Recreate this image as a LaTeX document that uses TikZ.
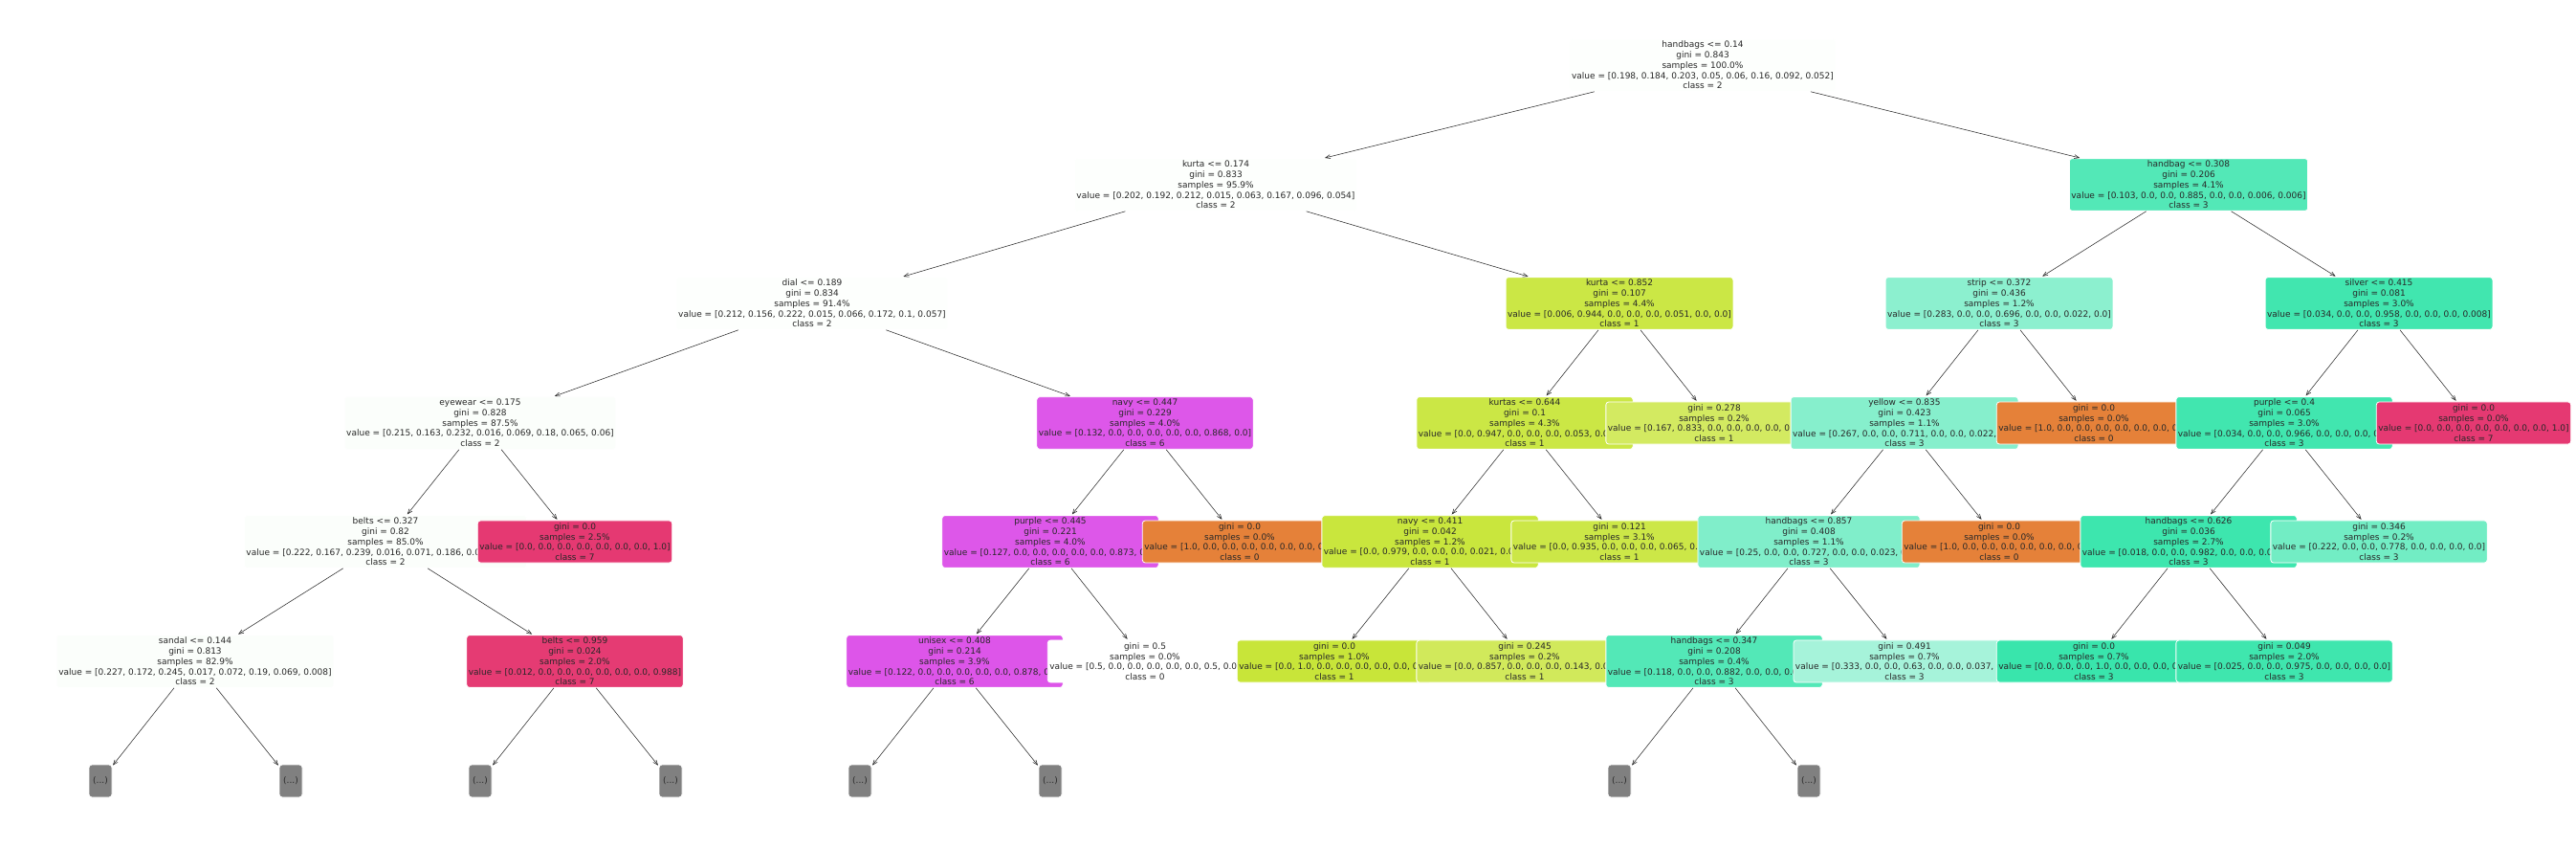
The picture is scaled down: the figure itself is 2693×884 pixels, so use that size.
\documentclass[tikz,border=0pt]{standalone}
\usepackage{fontspec}
\setmainfont{DejaVu Sans}
\usepackage{xcolor}
\usetikzlibrary{arrows.meta}
\definecolor{cls0}{RGB}{229,129,57}
\definecolor{cls1}{RGB}{200,229,57}
\definecolor{cls2}{RGB}{71,229,57}
\definecolor{cls3}{RGB}{57,229,172}
\definecolor{cls6}{RGB}{215,57,229}
\definecolor{cls7}{RGB}{229,57,114}
\definecolor{txt}{RGB}{40,40,40}
\tikzset{elided/.style={fill=gray,minimum width=24pt,minimum height=34pt,inner sep=0pt}}

\begin{document}
\begin{tikzpicture}[x=1pt,y=-1pt]
\useasboundingbox (0,0) rectangle (2693,884);
\begin{scope}[every node/.style={draw=white,line width=0.8pt,rounded corners=3pt,inner xsep=2pt,inner ysep=2.5pt,
                                 align=center,text=txt,font=\fontsize{9}{10.7}\selectfont}]
    % depth 0 and 1
    \node (root)[fill=cls2!1] at (1780,68) {handbags <= 0.14\\gini = 0.843\\samples = 100.0\%\\value = [0.198, 0.184, 0.203, 0.05, 0.06, 0.16, 0.092, 0.052]\\class = 2};
    \node (kurtaA)[fill=cls2!1] at (1271,193) {kurta <= 0.174\\gini = 0.833\\samples = 95.9\%\\value = [0.202, 0.192, 0.212, 0.015, 0.063, 0.167, 0.096, 0.054]\\class = 2};
    % left half
    \node (dial)[fill=cls2!1] at (849,317) {dial <= 0.189\\gini = 0.834\\samples = 91.4\%\\value = [0.212, 0.156, 0.222, 0.015, 0.066, 0.172, 0.1, 0.057]\\class = 2};
    \node (eyewear)[fill=cls2!2] at (502,442) {eyewear <= 0.175\\gini = 0.828\\samples = 87.5\%\\value = [0.215, 0.163, 0.232, 0.016, 0.069, 0.18, 0.065, 0.06]\\class = 2};
    \node (beltsA)[fill=cls2!2] at (403,566) {belts <= 0.327\\gini = 0.82\\samples = 85.0\%\\value = [0.222, 0.167, 0.239, 0.016, 0.071, 0.186, 0.067, 0.031]\\class = 2};
    \node (sandal)[fill=cls2!2] at (204,691) {sandal <= 0.144\\gini = 0.813\\samples = 82.9\%\\value = [0.227, 0.172, 0.245, 0.017, 0.072, 0.19, 0.069, 0.008]\\class = 2};
    \node (tA)[elided] at (105,816) {(...)};
    \node (tB)[elided] at (304,816) {(...)};
    \node (beltsB)[fill=cls7!99] at (601,691) {belts <= 0.959\\gini = 0.024\\samples = 2.0\%\\value = [0.012, 0.0, 0.0, 0.0, 0.0, 0.0, 0.0, 0.988]\\class = 7};
    \node (tC)[elided] at (502,816) {(...)};
    \node (tD)[elided] at (701,816) {(...)};
    \node (leafA)[fill=cls7] at (601,566) {gini = 0.0\\samples = 2.5\%\\value = [0.0, 0.0, 0.0, 0.0, 0.0, 0.0, 0.0, 1.0]\\class = 7};
    \node (navyA)[fill=cls6!85] at (1197,442) {navy <= 0.447\\gini = 0.229\\samples = 4.0\%\\value = [0.132, 0.0, 0.0, 0.0, 0.0, 0.0, 0.868, 0.0]\\class = 6};
    \node (purpleA)[fill=cls6!85] at (1098,566) {purple <= 0.445\\gini = 0.221\\samples = 4.0\%\\value = [0.127, 0.0, 0.0, 0.0, 0.0, 0.0, 0.873, 0.0]\\class = 6};
    \node (unisex)[fill=cls6!86] at (998,691) {unisex <= 0.408\\gini = 0.214\\samples = 3.9\%\\value = [0.122, 0.0, 0.0, 0.0, 0.0, 0.0, 0.878, 0.0]\\class = 6};
    \node (tE)[elided] at (899,816) {(...)};
    \node (tF)[elided] at (1098,816) {(...)};
    \node (leafC)[fill=white] at (1197,691) {gini = 0.5\\samples = 0.0\%\\value = [0.5, 0.0, 0.0, 0.0, 0.0, 0.0, 0.5, 0.0]\\class = 0};
    \node (leafB)[fill=cls0] at (1296,566) {gini = 0.0\\samples = 0.0\%\\value = [1.0, 0.0, 0.0, 0.0, 0.0, 0.0, 0.0, 0.0]\\class = 0};
    \node (kurtaB)[fill=cls1!94] at (1693,317) {kurta <= 0.852\\gini = 0.107\\samples = 4.4\%\\value = [0.006, 0.944, 0.0, 0.0, 0.0, 0.051, 0.0, 0.0]\\class = 1};
    \node (kurtas)[fill=cls1!94] at (1594,442) {kurtas <= 0.644\\gini = 0.1\\samples = 4.3\%\\value = [0.0, 0.947, 0.0, 0.0, 0.0, 0.053, 0.0, 0.0]\\class = 1};
    \node (navyB)[fill=cls1!98] at (1495,566) {navy <= 0.411\\gini = 0.042\\samples = 1.2\%\\value = [0.0, 0.979, 0.0, 0.0, 0.0, 0.021, 0.0, 0.0]\\class = 1};
    \node (leafF)[fill=cls1] at (1395,691) {gini = 0.0\\samples = 1.0\%\\value = [0.0, 1.0, 0.0, 0.0, 0.0, 0.0, 0.0, 0.0]\\class = 1};
    \node (leafG)[fill=cls1!83] at (1594,691) {gini = 0.245\\samples = 0.2\%\\value = [0.0, 0.857, 0.0, 0.0, 0.0, 0.143, 0.0, 0.0]\\class = 1};
    \node (leafE)[fill=cls1!93] at (1693,566) {gini = 0.121\\samples = 3.1\%\\value = [0.0, 0.935, 0.0, 0.0, 0.0, 0.065, 0.0, 0.0]\\class = 1};
    \node (leafD)[fill=cls1!80] at (1792,442) {gini = 0.278\\samples = 0.2\%\\value = [0.167, 0.833, 0.0, 0.0, 0.0, 0.0, 0.0, 0.0]\\class = 1};
    % right half
    \node (handbagA)[fill=cls3!87] at (2288,193) {handbag <= 0.308\\gini = 0.206\\samples = 4.1\%\\value = [0.103, 0.0, 0.0, 0.885, 0.0, 0.0, 0.006, 0.006]\\class = 3};
    \node (strip)[fill=cls3!58] at (2090,317) {strip <= 0.372\\gini = 0.436\\samples = 1.2\%\\value = [0.283, 0.0, 0.0, 0.696, 0.0, 0.0, 0.022, 0.0]\\class = 3};
    \node (yellow)[fill=cls3!61] at (1991,442) {yellow <= 0.835\\gini = 0.423\\samples = 1.1\%\\value = [0.267, 0.0, 0.0, 0.711, 0.0, 0.0, 0.022, 0.0]\\class = 3};
    \node (handbagsA)[fill=cls3!64] at (1891,566) {handbags <= 0.857\\gini = 0.408\\samples = 1.1\%\\value = [0.25, 0.0, 0.0, 0.727, 0.0, 0.0, 0.023, 0.0]\\class = 3};
    \node (handbagsB)[fill=cls3!87] at (1792,691) {handbags <= 0.347\\gini = 0.208\\samples = 0.4\%\\value = [0.118, 0.0, 0.0, 0.882, 0.0, 0.0, 0.0, 0.0]\\class = 3};
    \node (tG)[elided] at (1693,816) {(...)};
    \node (tH)[elided] at (1891,816) {(...)};
    \node (leafJ)[fill=cls3!45] at (1991,691) {gini = 0.491\\samples = 0.7\%\\value = [0.333, 0.0, 0.0, 0.63, 0.0, 0.0, 0.037, 0.0]\\class = 3};
    \node (leafI)[fill=cls0] at (2090,566) {gini = 0.0\\samples = 0.0\%\\value = [1.0, 0.0, 0.0, 0.0, 0.0, 0.0, 0.0, 0.0]\\class = 0};
    \node (leafH)[fill=cls0] at (2189,442) {gini = 0.0\\samples = 0.0\%\\value = [1.0, 0.0, 0.0, 0.0, 0.0, 0.0, 0.0, 0.0]\\class = 0};
    \node (silver)[fill=cls3!96] at (2487,317) {silver <= 0.415\\gini = 0.081\\samples = 3.0\%\\value = [0.034, 0.0, 0.0, 0.958, 0.0, 0.0, 0.0, 0.008]\\class = 3};
    \node (purpleB)[fill=cls3!96] at (2388,442) {purple <= 0.4\\gini = 0.065\\samples = 3.0\%\\value = [0.034, 0.0, 0.0, 0.966, 0.0, 0.0, 0.0, 0.0]\\class = 3};
    \node (handbagsC)[fill=cls3!98] at (2288,566) {handbags <= 0.626\\gini = 0.036\\samples = 2.7\%\\value = [0.018, 0.0, 0.0, 0.982, 0.0, 0.0, 0.0, 0.0]\\class = 3};
    \node (leafM)[fill=cls3] at (2189,691) {gini = 0.0\\samples = 0.7\%\\value = [0.0, 0.0, 0.0, 1.0, 0.0, 0.0, 0.0, 0.0]\\class = 3};
    \node (leafN)[fill=cls3!97] at (2388,691) {gini = 0.049\\samples = 2.0\%\\value = [0.025, 0.0, 0.0, 0.975, 0.0, 0.0, 0.0, 0.0]\\class = 3};
    \node (leafL)[fill=cls3!71] at (2487,566) {gini = 0.346\\samples = 0.2\%\\value = [0.222, 0.0, 0.0, 0.778, 0.0, 0.0, 0.0, 0.0]\\class = 3};
    \node (leafK)[fill=cls7] at (2586,442) {gini = 0.0\\samples = 0.0\%\\value = [0.0, 0.0, 0.0, 0.0, 0.0, 0.0, 0.0, 1.0]\\class = 7};
\end{scope}

\begin{scope}[every edge/.style={draw=txt,line width=0.55pt,shorten >=1pt,-{Straight Barb[length=5pt,width=4pt]}}]
    \path (root) edge (kurtaA) (root) edge (handbagA);
    \path (kurtaA) edge (dial) (kurtaA) edge (kurtaB);
    \path (dial) edge (eyewear) (dial) edge (navyA);
    \path (eyewear) edge (beltsA) (eyewear) edge (leafA);
    \path (beltsA) edge (sandal) (beltsA) edge (beltsB);
    \path (sandal) edge (tA) (sandal) edge (tB);
    \path (beltsB) edge (tC) (beltsB) edge (tD);
    \path (navyA) edge (purpleA) (navyA) edge (leafB);
    \path (purpleA) edge (unisex) (purpleA) edge (leafC);
    \path (unisex) edge (tE) (unisex) edge (tF);
    \path (kurtaB) edge (kurtas) (kurtaB) edge (leafD);
    \path (kurtas) edge (navyB) (kurtas) edge (leafE);
    \path (navyB) edge (leafF) (navyB) edge (leafG);
    \path (handbagA) edge (strip) (handbagA) edge (silver);
    \path (strip) edge (yellow) (strip) edge (leafH);
    \path (yellow) edge (handbagsA) (yellow) edge (leafI);
    \path (handbagsA) edge (handbagsB) (handbagsA) edge (leafJ);
    \path (handbagsB) edge (tG) (handbagsB) edge (tH);
    \path (silver) edge (purpleB) (silver) edge (leafK);
    \path (purpleB) edge (handbagsC) (purpleB) edge (leafL);
    \path (handbagsC) edge (leafM) (handbagsC) edge (leafN);
\end{scope}
\end{tikzpicture}
\end{document}
